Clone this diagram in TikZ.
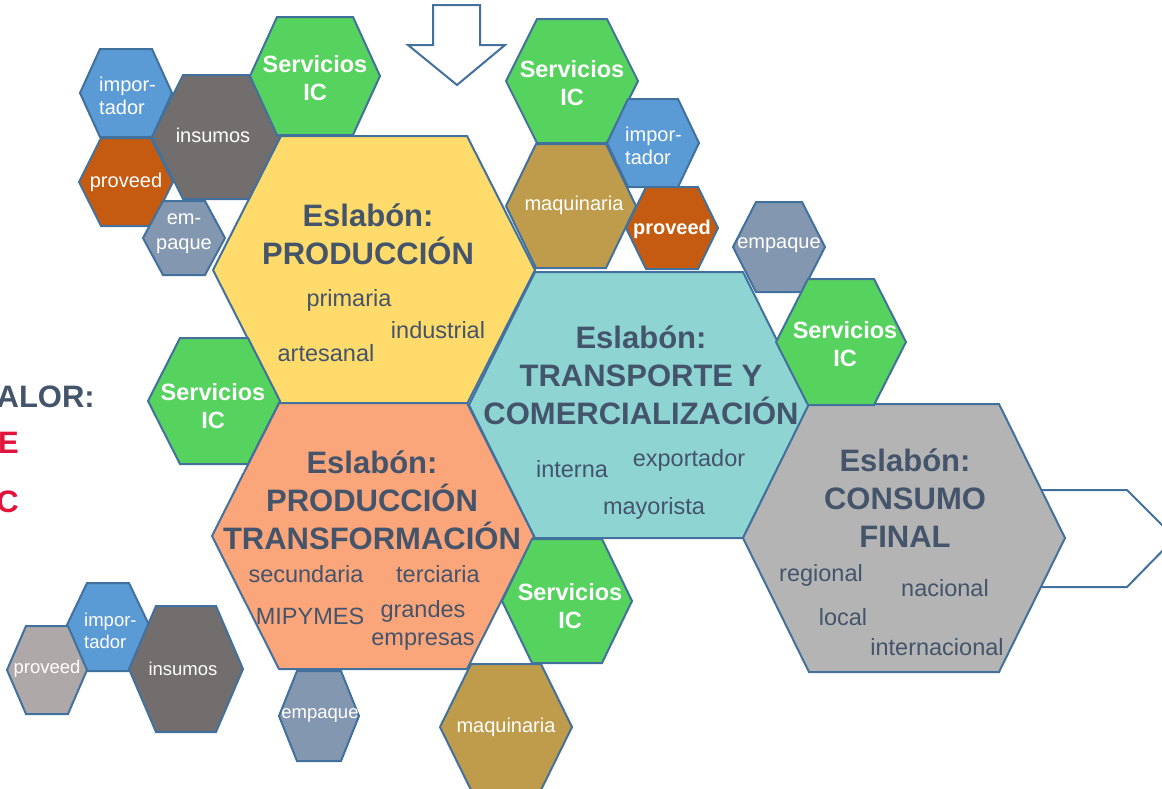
\documentclass[tikz,border=0pt]{standalone}
\usepackage{fontspec}
\setmainfont{Liberation Sans}
\definecolor{txt}{HTML}{44546A}
\definecolor{edge}{HTML}{41719C}
\definecolor{cyellow}{HTML}{FFDB6B}
\definecolor{corange}{HTML}{FAA57A}
\definecolor{cteal}{HTML}{8ED4D3}
\definecolor{cgray}{HTML}{B4B4B4}
\definecolor{cgreen}{HTML}{56D35E}
\definecolor{cblue}{HTML}{5B9BD5}
\definecolor{cdark}{HTML}{736E6E}
\definecolor{cbrown}{HTML}{C55A11}
\definecolor{cslate}{HTML}{8497B0}
\definecolor{cgold}{HTML}{BF9C4B}
\definecolor{clight}{HTML}{AFA8A8}
\definecolor{cred}{HTML}{E0143C}
\tikzset{
  hexline/.style={draw=edge, line width=2pt, line join=miter},
  title/.style={font=\bfseries\fontsize{31}{38}\selectfont, text=txt, align=center, inner sep=0pt},
  sub/.style={font=\fontsize{23.5}{26}\selectfont, text=txt, inner sep=0pt},
  small/.style={font=\fontsize{20}{23}\selectfont, text=white, align=center, inner sep=0pt},
  smaller/.style={font=\fontsize{18.5}{22}\selectfont, text=white, align=center, inner sep=0pt},
  svc/.style={font=\bfseries\fontsize{23.5}{28.5}\selectfont, text=white, align=center, inner sep=0pt},
  side/.style={font=\bfseries\fontsize{31}{38}\selectfont, inner sep=0pt},
}
\newcommand{\hexg}[7]{%
  \path[hexline, fill=#7] ({#2-#4},{#3}) -- ({#2-#5},{#3-#6}) -- ({#2+#5},{#3-#6}) -- ({#2+#4},{#3}) -- ({#2+#5},{#3+#6}) -- ({#2-#5},{#3+#6}) -- cycle;
  \coordinate (#1) at (#2,#3);}
\begin{document}
\begin{tikzpicture}[x=1pt, y=-1pt]
\clip (0,0) rectangle (1162,788);
\fill[white] (0,0) rectangle (1162,788);

% block arrows
\path[hexline, fill=white] (433,5) -- (480,5) -- (480,45) -- (505,45) -- (457,85) -- (408,45) -- (433,45) -- cycle;
\path[hexline, fill=white] (1000,490) -- (1127,490) -- (1175,538) -- (1127,587) -- (1000,587) -- cycle;

% big hexagons
\hexg{prod}{374}{270}{161}{93}{134}{cyellow}
\hexg{trans}{373}{536}{161}{94}{133}{corange}
\hexg{comer}{639}{405}{170}{104}{133}{cteal}
\hexg{cons}{904}{538}{161}{95}{134}{cgray}

% small hexagons
\hexg{tlimp}{126}{93}{46}{26}{44}{cblue}
\hexg{tlins}{216}{137}{64}{33}{62}{cdark}
\hexg{tlsvc}{315}{76}{65}{38}{59}{cgreen}
\hexg{tlprov}{126}{182}{47}{25}{44}{cbrown}
\hexg{tlemp}{184}{238}{41}{21}{37}{cslate}
\hexg{tmsvc}{572}{81}{66}{35}{62}{cgreen}
\hexg{tmimp}{653}{143}{46}{25}{44}{cblue}
\hexg{tmmaq}{571}{206}{65}{35}{62}{cgold}
\hexg{tmprov}{672}{228}{46}{26}{41}{cbrown}
\hexg{tremp}{779}{247}{46}{23}{45}{cslate}
\hexg{trsvc}{841}{342}{65}{33}{63}{cgreen}
\hexg{lsvc}{214}{401}{66}{34}{63}{cgreen}
\hexg{bmsvc}{567}{601}{65}{35}{62}{cgreen}
\hexg{bmmaq}{506}{727}{66}{35}{63}{cgold}
\hexg{blimp}{108}{627}{42}{21}{44}{cblue}
\hexg{blprov}{47}{670}{40}{21}{44}{clight}
\hexg{blins}{186}{669}{57}{30}{63}{cdark}
\hexg{blemp}{319}{716}{40}{22}{45}{cslate}

% titles
\node[title] (tprod) at (368,234) {Eslabón:\\PRODUCCIÓN};
\node[title] (ttrans) at (372,500) {Eslabón:\\PRODUCCIÓN\\TRANSFORMACIÓN};
\node[title] (tcomer) at (641,375) {Eslabón:\\TRANSPORTE Y\\COMERCIALIZACIÓN};
\node[title] (tcons) at (905,498) {Eslabón:\\CONSUMO\\FINAL};

% sub texts
\node[sub] (s1) at (349,300) {primaria};
\node[sub] (s2) at (438,330) {industrial};
\node[sub] (s3) at (326,353) {artesanal};
\node[sub] (s4) at (306,574) {secundaria};
\node[sub] (s5) at (438,574) {terciaria};
\node[sub] (s6) at (310,616) {MIPYMES};
\node[sub, align=center, font=\fontsize{23.5}{28}\selectfont] (s7) at (423,625) {grandes\\empresas};
\node[sub] (s8) at (572,469) {interna};
\node[sub] (s9) at (689,460) {exportador};
\node[sub] (s10) at (654,508) {mayorista};
\node[sub] (s11) at (821,575) {regional};
\node[sub] (s12) at (945,588) {nacional};
\node[sub] (s13) at (843,617) {local};
\node[sub] (s14) at (937,647) {internacional};

% small texts
\node[small, align=left, anchor=west] (x1) at (99,96) {impor-\\tador};
\node[small] (x2) at (213,135) {insumos};
\node[svc] (x3) at (315,78) {Servicios\\IC};
\node[small] (x4) at (126,182) {proveed};
\node[small, font=\fontsize{20}{25}\selectfont] (x5) at (184,234) {em-\\paque};
\node[svc] (x6) at (572,83) {Servicios\\IC};
\node[small, align=left, anchor=west] (x7) at (625,146) {impor-\\tador};
\node[small] (x8) at (574,205) {maquinaria};
\node[small, font=\bfseries\fontsize{20}{23}\selectfont] (x9) at (672,229) {proveed};
\node[small] (x10) at (779,245) {empaque};
\node[svc] (x11) at (845,344) {Servicios\\IC};
\node[svc] (x12) at (213,406) {Servicios\\IC};
\node[svc] (x13) at (570,606) {Servicios\\IC};
\node[small] (x14) at (506,727) {maquinaria};
\node[smaller, align=left, anchor=west] (x15) at (84,631) {impor-\\tador};
\node[smaller] (x16) at (47,669) {proveed};
\node[smaller] (x17) at (183,669) {insumos};
\node[smaller] (x18) at (320,715) {empaque};

% partial side texts
\node[side, text=txt, anchor=base east] (v1) at (95,407) {ALOR:};
\node[side, text=cred, anchor=base east] (v2) at (19,453) {E};
\node[side, text=cred, anchor=base east] (v3) at (19,512) {C};
\end{tikzpicture}
\end{document}
